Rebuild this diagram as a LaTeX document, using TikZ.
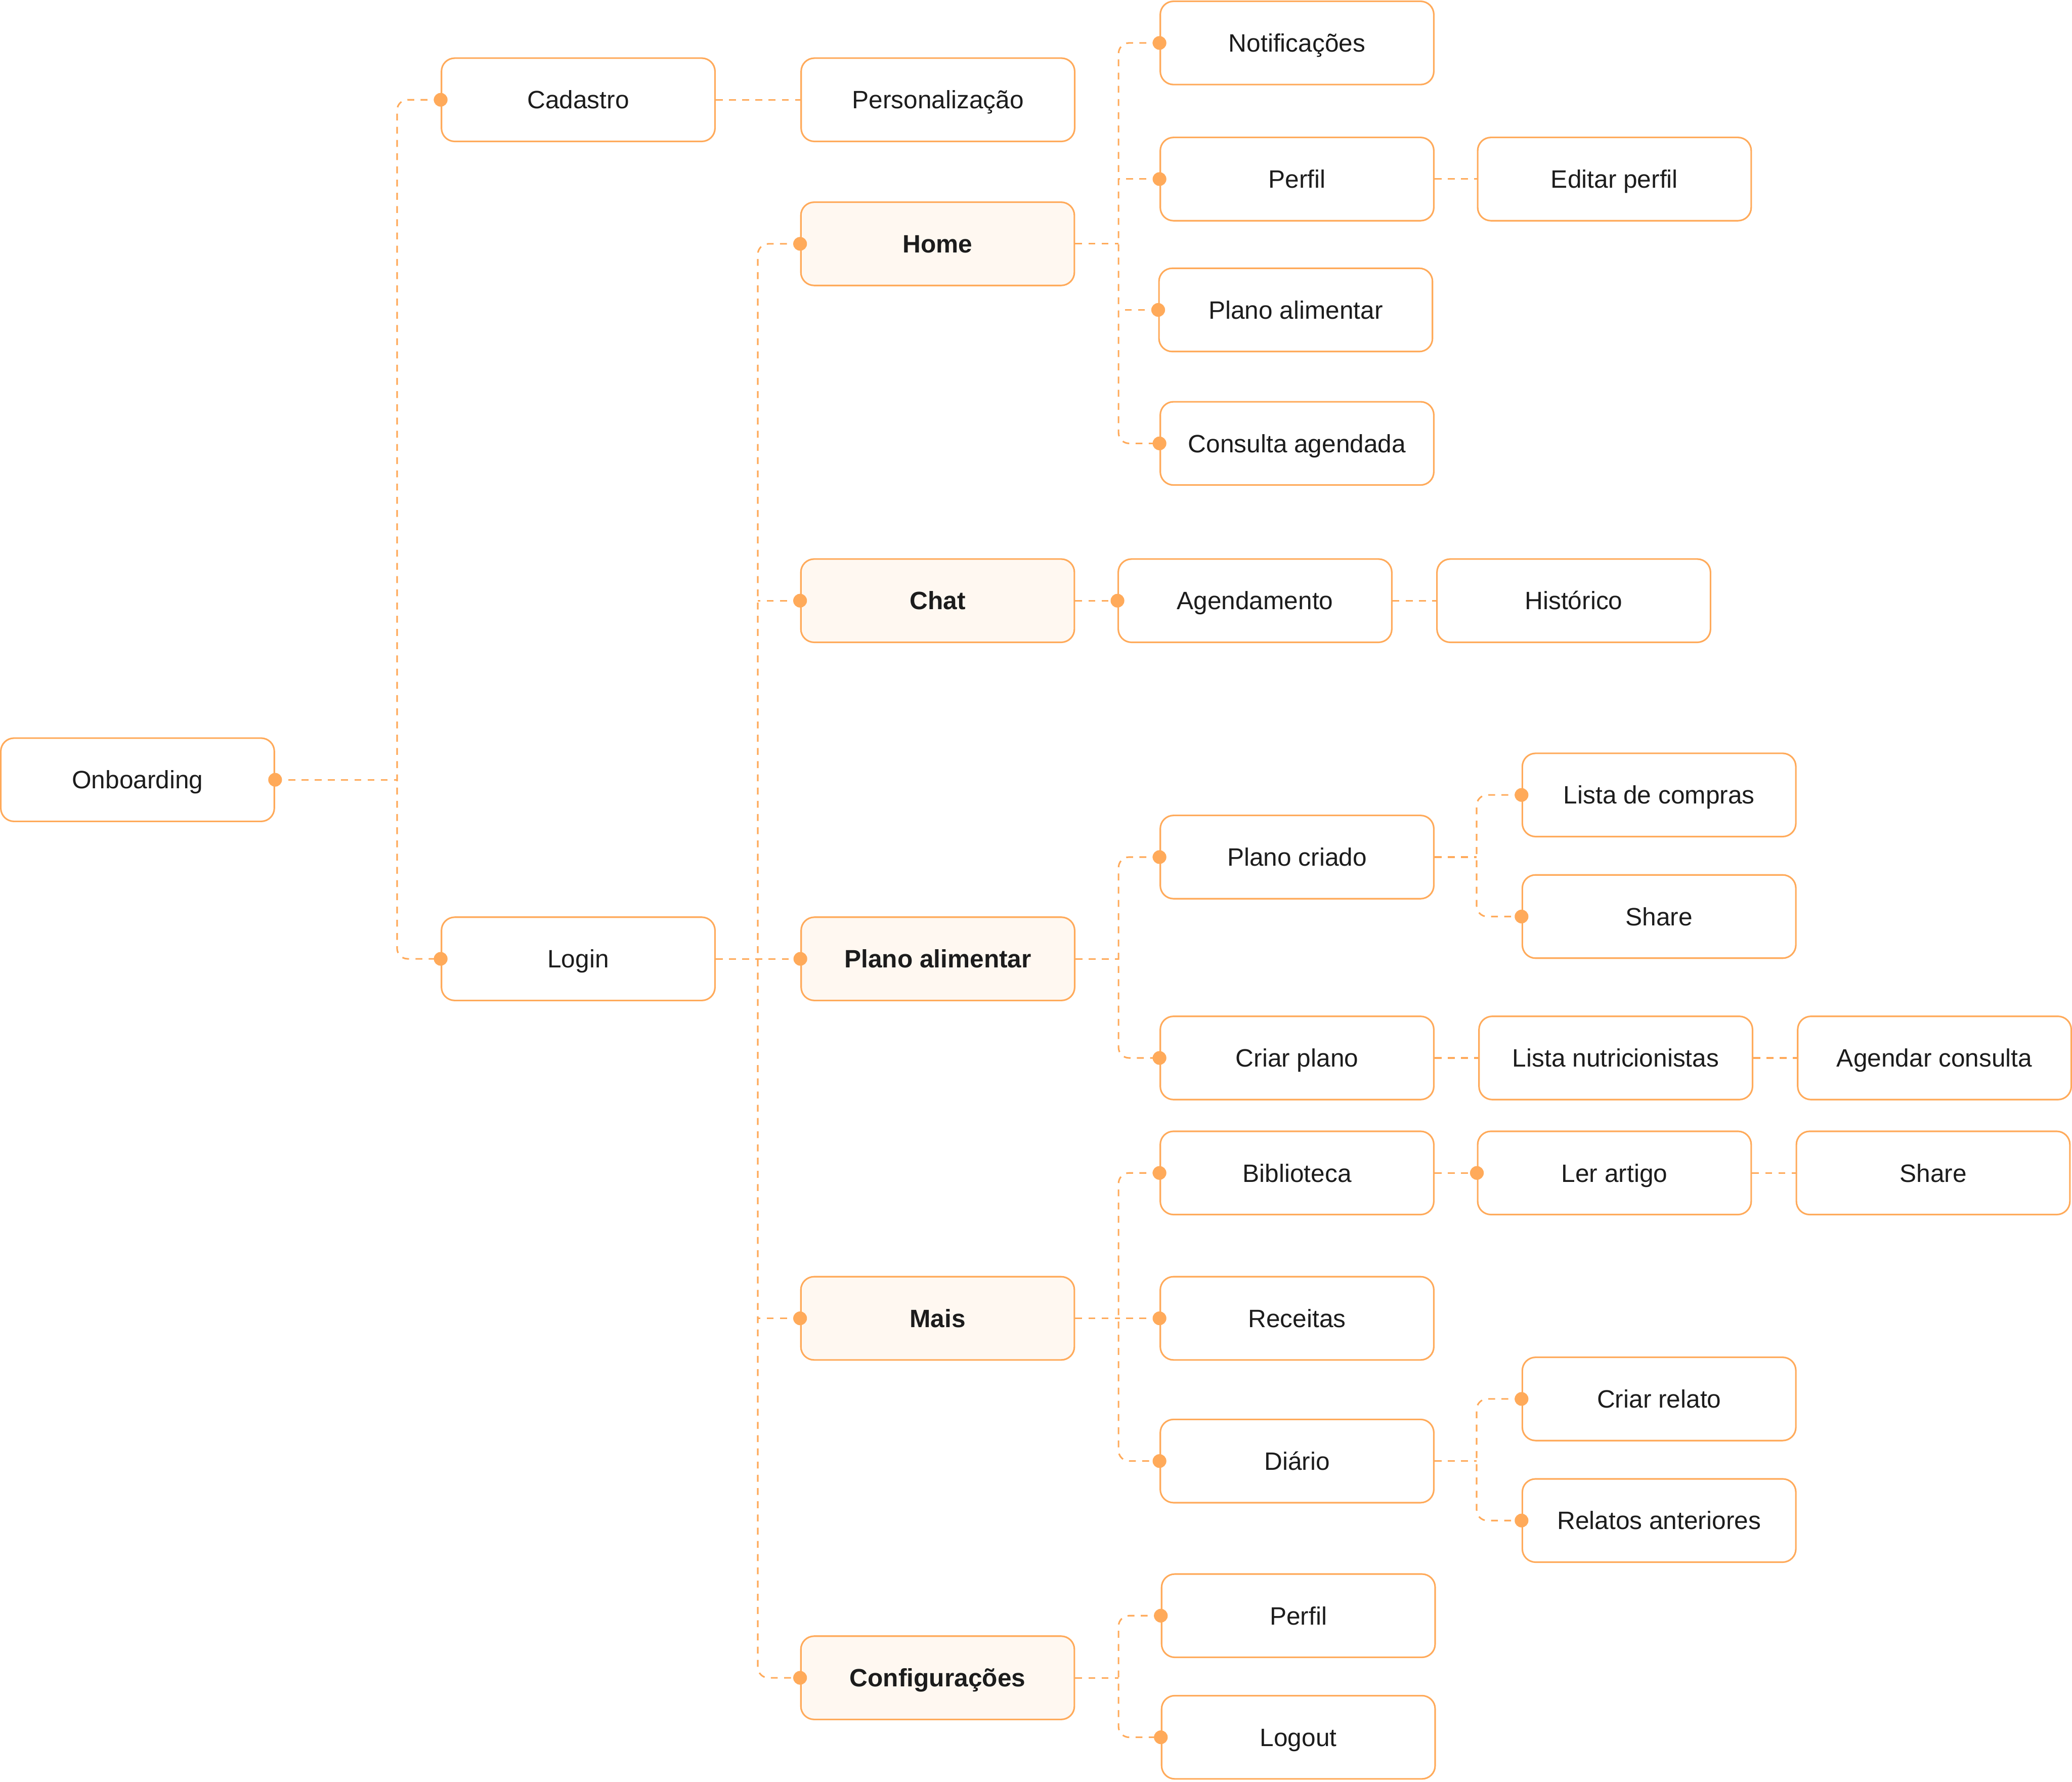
\documentclass[tikz,border=0pt]{standalone}
\usepackage{fontspec}
\setmainfont{Liberation Sans}
\usetikzlibrary{positioning}
\definecolor{lineorange}{HTML}{FFAA5A}
\definecolor{softfill}{HTML}{FFF8F1}
\definecolor{inktext}{HTML}{1C1C1C}

\begin{document}
\begin{tikzpicture}[x=0.5pt, y=-0.5pt,
  every node/.style={font=\fontsize{9.5}{11}\selectfont, text=inktext},
  screen/.style={draw=lineorange, line width=0.6pt, rectangle, rounded corners=5pt, minimum width=103.5pt, minimum height=31.5pt, inner sep=0pt, text height=6.8pt, text depth=0pt, fill=white},
  mainscreen/.style={screen, fill=softfill, font=\fontsize{9.5}{11}\selectfont\bfseries},
  link/.style={draw=lineorange, line width=0.6pt, dash pattern=on 2.6pt off 2.4pt},
  branch/.style={link, rounded corners=4pt},
  knob/.style={fill=lineorange}]

\fill[white] (0,0) rectangle (1568,1348);

% entrada
\node[screen] (onb) at (104,590) {Onboarding};
\node[screen] (cad) at (437.5,75.5) {Cadastro};
\node[screen, right=32pt of cad] (pers) {Personalização};
\node[screen] (login) at (437.5,725.5) {Login};

% abas principais
\node[mainscreen] (home) at (709.5,184.5) {Home};
\node[mainscreen] (chat) at (709.5,454.5) {Chat};
\node[mainscreen, right=32pt of login] (plano) {Plano alimentar};
\node[mainscreen] (mais) at (709.5,997.5) {Mais};
\node[mainscreen] (config) at (709.5,1269.5) {Configurações};

% home
\node[screen] (notif) at (981.5,32.5) {Notificações};
\node[screen] (perfil) at (981.5,135.5) {Perfil};
\node[screen, right=16pt of perfil] (editar) {Editar perfil};
\node[screen] (planohome) at (980.5,234.5) {Plano alimentar};
\node[screen] (consulta) at (981.5,335.5) {Consulta agendada};

% chat
\node[screen, right=16pt of chat] (agend) {Agendamento};
\node[screen, right=16.5pt of agend] (hist) {Histórico};

% plano alimentar
\node[screen] (criado) at (981.5,648.5) {Plano criado};
\node[screen] (compras) at (1255.5,601.5) {Lista de compras};
\node[screen] (sharelista) at (1255.5,693.5) {Share};
\node[screen] (criar) at (981.5,800.5) {Criar plano};
\node[screen, right=16.5pt of criar] (nutri) {Lista nutricionistas};
\node[screen, right=16.5pt of nutri] (agendar) {Agendar consulta};

% mais
\node[screen] (biblio) at (981.5,887.5) {Biblioteca};
\node[screen, right=16pt of biblio] (artigo) {Ler artigo};
\node[screen, right=16.5pt of artigo] (shareartigo) {Share};
\node[screen] (receitas) at (981.5,997.5) {Receitas};
\node[screen] (diario) at (981.5,1105.5) {Diário};
\node[screen] (relato) at (1255.5,1058.5) {Criar relato};
\node[screen] (anteriores) at (1255.5,1150.5) {Relatos anteriores};

% configuracoes
\node[screen] (perfilcfg) at (982.5,1222.5) {Perfil};
\node[screen] (logout) at (982.5,1314.5) {Logout};

% pontos de juncao
\coordinate (jonb) at ([xshift=-16.5pt]cad.west);
\coordinate (jtabs) at ([xshift=-16pt]home.west);
\coordinate (jhome) at ([xshift=-15.5pt]notif.west);
\coordinate (jplano) at ([xshift=-15.5pt]criado.west);
\coordinate (jcriado) at ([xshift=-17pt]compras.west);
\coordinate (jmais) at ([xshift=-15.5pt]biblio.west);
\coordinate (jdiario) at ([xshift=-17pt]relato.west);
\coordinate (jconfig) at ([xshift=-16pt]perfilcfg.west);

% ligacoes
\draw[branch] (cad.west) -- (jonb) |- (login.west);
\draw[link] (onb.east) -- (onb.east -| jonb);
\draw[link] (cad) -- (pers);
\draw[link] (login) -- (plano);

\draw[branch] (home.west) -- (jtabs) |- (config.west);
\draw[link] (chat.west) -- (chat.west -| jtabs);
\draw[link] (mais.west) -- (mais.west -| jtabs);

\draw[branch] (notif.west) -- (jhome) |- (consulta.west);
\draw[link] (perfil.west) -- (perfil.west -| jhome);
\draw[link] (planohome.west) -- (planohome.west -| jhome);
\draw[link] (home.east) -- (home.east -| jhome);
\draw[link] (perfil) -- (editar);

\draw[link] (chat) -- (agend);
\draw[link] (agend) -- (hist);

\draw[branch] (criado.west) -- (jplano) |- (criar.west);
\draw[link] (plano.east) -- (plano.east -| jplano);
\draw[branch] (compras.west) -- (jcriado) |- (sharelista.west);
\draw[link] (criado.east) -- (criado.east -| jcriado);
\draw[link] (criar) -- (nutri);
\draw[link] (nutri) -- (agendar);

\draw[branch] (biblio.west) -- (jmais) |- (diario.west);
\draw[link] (receitas.west) -- (receitas.west -| jmais);
\draw[link] (mais.east) -- (mais.east -| jmais);
\draw[link] (biblio) -- (artigo);
\draw[link] (artigo) -- (shareartigo);
\draw[branch] (relato.west) -- (jdiario) |- (anteriores.west);
\draw[link] (diario.east) -- (diario.east -| jdiario);

\draw[branch] (perfilcfg.west) -- (jconfig) |- (logout.west);
\draw[link] (config.east) -- (config.east -| jconfig);

% marcadores
\fill[knob] (onb.east) circle (2.6pt);
\foreach \n in {cad,login,home,chat,plano,mais,config,notif,perfil,planohome,consulta,agend,criado,compras,sharelista,criar,biblio,artigo,receitas,diario,relato,anteriores,perfilcfg,logout}
  \fill[knob] (\n.west) circle (2.6pt);
\end{tikzpicture}
\end{document}
